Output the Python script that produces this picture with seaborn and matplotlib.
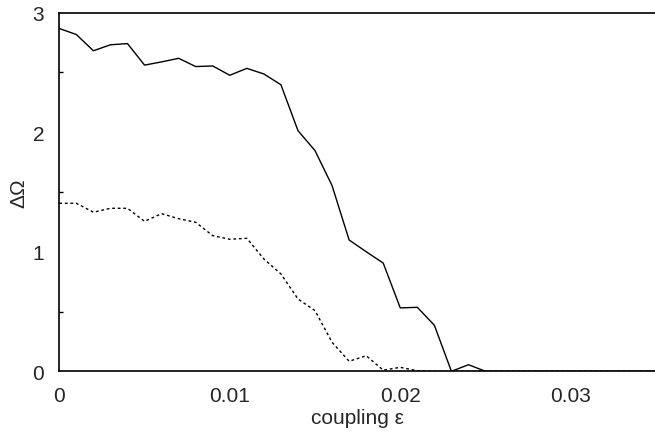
import numpy as np
import pandas as pd
import matplotlib
matplotlib.use("Agg")
import matplotlib.pyplot as plt
from matplotlib.ticker import FixedLocator
import seaborn as sns

# data
coupling = [i * 0.001 for i in range(36)]
solid = [2.866, 2.816, 2.68, 2.73, 2.74, 2.56, 2.587, 2.617, 2.548, 2.553,
         2.475, 2.533, 2.486, 2.396, 2.012, 1.845, 1.552, 1.098, 1.0, 0.905,
         0.53, 0.535, 0.385, 0.0, 0.055, 0.0, 0.0, 0.0, 0.0, 0.0,
         0.0, 0.0, 0.0, 0.0, 0.0, 0.0]
dashed = [1.405, 1.405, 1.33, 1.363, 1.363, 1.254, 1.318, 1.276, 1.246, 1.134,
          1.104, 1.112, 0.939, 0.814, 0.605, 0.507, 0.242, 0.084, 0.13, 0.01,
          0.033, 0.005, 0.0, 0.0, 0.0, 0.0, 0.0, 0.0, 0.0, 0.0,
          0.0, 0.0, 0.0, 0.0, 0.0, 0.0]
xticks = [0, 0.01, 0.02, 0.03]
xticklabels = ["0", "0.01", "0.02", "0.03"]
yticks = [0, 1, 2, 3]
yminor = [0.5, 1.5, 2.5]

sns.set_style("white")
plt.rcParams['font.family'] = ['Liberation Sans', 'DejaVu Sans']

fig = plt.figure(figsize=(6.55, 4.35), dpi=100)
W, H = 655, 435
x0, x1 = 59.3, 656.0
y0, y1 = 372.3, 13.5
ax = fig.add_axes([x0 / W, 1 - y0 / H, (x1 - x0) / W, (y0 - y1) / H])

df = pd.DataFrame({"coupling": coupling, "solid": solid, "dashed": dashed})
sns.lineplot(data=df, x="coupling", y="solid", ax=ax, color="black", lw=1.0)
sns.lineplot(data=df, x="coupling", y="dashed", ax=ax, color="black", lw=1.0,
             linestyle=(0, (2, 2)))

ax.set_xlim(0, 0.035)
ax.set_ylim(0, 3)
ax.set_xticks(xticks)
ax.set_xticklabels(xticklabels)
ax.set_yticks(yticks)
ax.yaxis.set_minor_locator(FixedLocator(yminor))
ax.tick_params(axis="both", which="major", direction="in", length=5.5, width=1,
               color="black", labelsize=15)
ax.tick_params(axis="y", which="minor", direction="in", length=3, width=1,
               color="black", left=True)
ax.tick_params(axis="x", which="major", pad=10.5)
ax.tick_params(axis="y", which="major", pad=11)
for side in ["left", "bottom", "top"]:
    ax.spines[side].set_visible(True)
    ax.spines[side].set_color("black")
    ax.spines[side].set_linewidth(1.2)
ax.spines["right"].set_visible(False)

ax.set_xlabel("coupling ε", fontsize=15, va="center")
ax.xaxis.set_label_coords(0.5, (372.3 - 419) / (y0 - y1))
ax.set_ylabel("ΔΩ", fontsize=15, va="center")
ax.yaxis.set_label_coords((18.5 - x0) / (x1 - x0), 0.5)

fig.savefig("out.png", dpi=100)
